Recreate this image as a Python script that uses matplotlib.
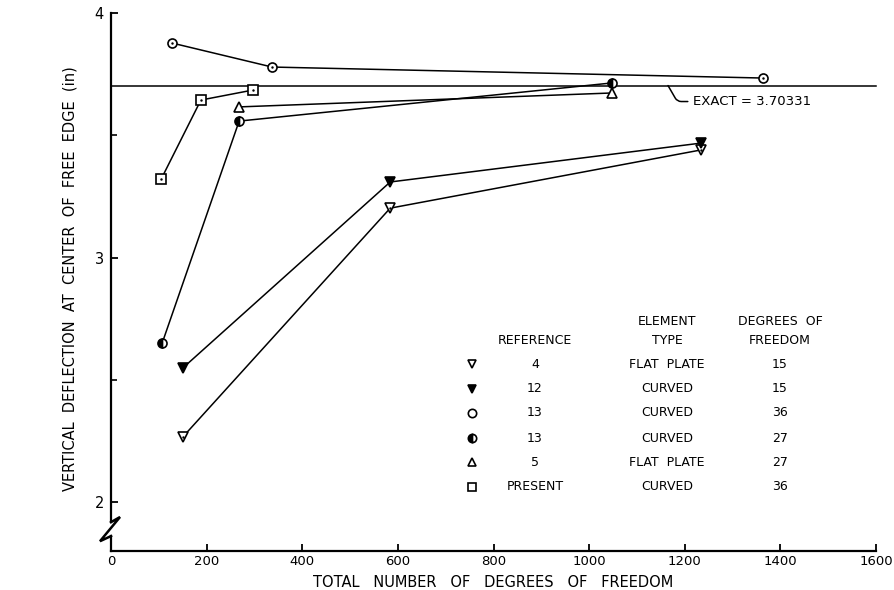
import matplotlib
matplotlib.use('Agg')
import matplotlib.pyplot as plt
import matplotlib.transforms as mtrans

# ---------------- data ----------------
ref4_x = [150, 584, 1234]
ref4_y = [2.266, 3.202, 3.440]
ref12_x = [150, 584, 1234]
ref12_y = [2.548, 3.309, 3.468]
ref13a_x = [128, 337, 1364]
ref13a_y = [3.877, 3.779, 3.734]
ref13b_x = [107, 268, 1048]
ref13b_y = [2.650, 3.558, 3.714]
ref5_x = [268, 1048]
ref5_y = [3.616, 3.673]
present_x = [105, 188, 297]
present_y = [3.321, 3.644, 3.685]

exact_value = 3.70331

x_ticks = [0, 200, 400, 600, 800, 1000, 1200, 1400, 1600]
y_ticks = [2, 3, 4]
y_minor = [2.5, 3.5]

tbl_refs = ["4", "12", "13", "13", "5", "PRESENT"]
tbl_types = ["FLAT  PLATE", "CURVED", "CURVED", "CURVED", "FLAT  PLATE", "CURVED"]
tbl_dofs = ["15", "15", "36", "27", "27", "36"]

# ---------------- figure ----------------
plt.rcParams['font.family'] = ['DejaVu Sans']
W, H = 895, 590
fig = plt.figure(figsize=(W / 100, H / 100), dpi=100)
L, R, T, B = 111, 876, 13, 551
ax = fig.add_axes([L / W, 1 - B / H, (R - L) / W, (B - T) / H])
ax.set_xlim(0, 1600)
ax.set_ylim(1.80, 4.0)

for s in ['top', 'right', 'left']:
    ax.spines[s].set_visible(False)
ax.spines['bottom'].set_linewidth(1.6)

# left spine with break
bt = mtrans.blended_transform_factory(ax.transAxes, ax.transData)
ax.plot([0, 0], [1.918, 4.0], color='black', lw=1.6, transform=bt, clip_on=False)
ax.plot([0, 0.0118, -0.0144, 0], [1.918, 1.939, 1.840, 1.861],
        color='black', lw=1.8, transform=bt, clip_on=False, solid_joinstyle='miter')
ax.plot([0, 0], [1.861, 1.80], color='black', lw=1.6, transform=bt, clip_on=False)

ax.set_xticks(x_ticks)
ax.set_xticklabels([str(v) for v in x_ticks], fontsize=9.5)
ax.set_yticks(y_ticks)
ax.set_yticklabels([str(v) for v in y_ticks], fontsize=10.5)
ax.set_yticks(y_minor, minor=True)
ax.tick_params(axis='both', which='major', direction='in', length=5, width=1.3)
ax.tick_params(axis='y', which='minor', direction='in', length=4, width=1.2)
ax.tick_params(axis='x', pad=3)
ax.tick_params(axis='y', pad=5)

# exact line
ax.plot([0, 1600], [exact_value, exact_value], color='black', lw=1.1, clip_on=False)
ax.annotate("EXACT = %.5f" % exact_value, xy=(1165, exact_value), xytext=(1218, 3.638),
            fontsize=9.5, va='center', ha='left',
            arrowprops=dict(arrowstyle='-', color='black', lw=1.1,
                            connectionstyle='angle,angleA=0,angleB=-60,rad=4',
                            shrinkA=2, shrinkB=0))

line_kw = dict(color='black', lw=1.1)
mk_kw = dict(markersize=6.5, markeredgewidth=1.2, markeredgecolor='black')

ax.plot(ref4_x, ref4_y, marker='v', markerfacecolor='white', **line_kw, **mk_kw)
ax.plot(ref12_x, ref12_y, marker='v', markerfacecolor='black', **line_kw, **mk_kw)
ax.plot(ref13a_x, ref13a_y, marker='o', markerfacecolor='white', **line_kw, **mk_kw)
ax.plot(ref13b_x, ref13b_y, marker='o', fillstyle='left', markerfacecolor='black',
        markerfacecoloralt='white', **line_kw, **mk_kw)
ax.plot(ref5_x, ref5_y, marker='^', markerfacecolor='white', **line_kw, **mk_kw)
ax.plot(present_x, present_y, marker='s', markerfacecolor='white', **line_kw, **mk_kw)
# centre dots of the open symbols
for xs, ys in [(ref4_x, ref4_y), (ref13a_x, ref13a_y), (present_x, present_y)]:
    ax.plot(xs, ys, ls='none', marker='.', markersize=1.5, color='black')

# axis labels
ax.set_xlabel("TOTAL   NUMBER   OF   DEGREES   OF   FREEDOM", fontsize=10.5)
ax.xaxis.set_label_coords(0.5, -0.045)
ax.set_ylabel("VERTICAL  DEFLECTION  AT  CENTER  OF  FREE  EDGE  (in)", fontsize=10.5)
ax.yaxis.set_label_coords(-(L - 78) / (R - L), (B - 279) / (B - T))

# table legend
def ftxt(px, py, s, **kw):
    fig.text(px / W, 1 - py / H, s, ha='center', va='center', fontsize=9, **kw)

ftxt(667, 322, "ELEMENT")
ftxt(780, 322, "DEGREES  OF")
ftxt(535, 340, "REFERENCE")
ftxt(667, 340, "TYPE")
ftxt(780, 340, "FREEDOM")

row_y = [364, 389, 413, 438, 462, 487]
markers = [('v', 'white', None), ('v', 'black', None), ('o', 'white', None),
           ('o', 'black', 'left'), ('^', 'white', None), ('s', 'white', None)]
for py, r, t, d, (m, fc, fs) in zip(row_y, tbl_refs, tbl_types, tbl_dofs, markers):
    ftxt(535, py, r)
    ftxt(667, py, t)
    ftxt(780, py, d)
    kw = dict(marker=m, markersize=6, markeredgewidth=1.2, markeredgecolor='black',
              markerfacecolor=fc, ls='none', transform=fig.transFigure)
    if fs:
        kw.update(fillstyle=fs, markerfacecoloralt='white')
    fig.add_artist(plt.Line2D([472 / W], [1 - py / H], **kw))

fig.savefig('out.png', dpi=100)
